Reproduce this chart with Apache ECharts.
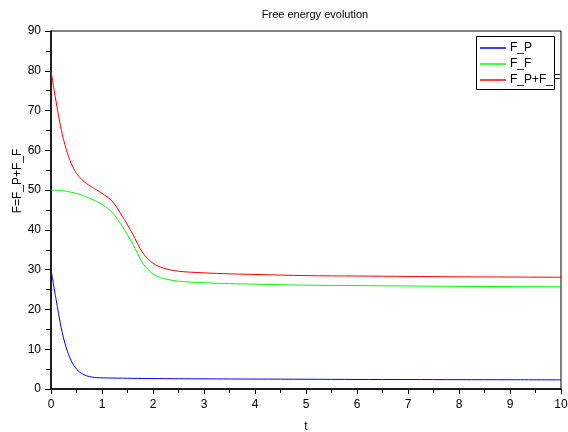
<!DOCTYPE html>
<html>
<head>
<meta charset="utf-8">
<script src="https://cdn.jsdelivr.net/npm/echarts@6/dist/echarts.min.js"></script>
<style>html,body{margin:0;padding:0;background:#fff}#c{width:568px;height:432px}</style>
</head>
<body>
<div id="c"></div>
<script>
var tValues = [0,0.1,0.2,0.3,0.4,0.5,0.6,0.7,0.8,0.9,1.0,1.2,1.4,1.6,1.8,2.0,2.2,2.5,3.0,3.5,4,5,6,7,8,9,10];
var fP  = [30,22.5,15.4,10.3,7.0,5.0,3.9,3.3,3.0,2.85,2.8,2.75,2.72,2.68,2.65,2.62,2.6,2.58,2.55,2.52,2.5,2.45,2.4,2.38,2.35,2.33,2.3];
var fF  = [50,49.97,49.85,49.7,49.45,49.15,48.75,48.25,47.7,47.1,46.4,44.4,40.8,36.5,31.6,28.9,27.8,27.1,26.7,26.5,26.35,26.1,26.0,25.9,25.8,25.75,25.7];
var fPF = [80,72.2,65.2,60.2,56.6,54.2,52.7,51.6,50.8,50.0,49.2,47.2,43.4,39.0,34.2,31.6,30.4,29.6,29.2,28.95,28.8,28.5,28.4,28.3,28.2,28.15,28.1];
var seriesNames = ['F_P','F_F','F_P+F_F'];
var seriesColors = ['#0000ff','#00ff00','#ff0000'];
var xTicks = {min:0,max:10,interval:1};
var yTicks = {min:0,max:90,interval:10};

function pairs(arr){ return tValues.map(function(t,i){return [t,arr[i]];}); }
var dataSets = [fP,fF,fPF];
var font = 'Liberation Sans, Arial, Helvetica, sans-serif';

var chart = echarts.init(document.getElementById('c'));
chart.setOption({
  animation:false,
  backgroundColor:'#fff',
  title:{text:'Free energy evolution',left:310,top:4,textAlign:'center',
    textStyle:{fontFamily:font,fontSize:11,fontWeight:'normal',color:'#000'}},
  grid:{left:51,right:7,top:31,bottom:43,outerBoundsMode:'none',containLabel:false,show:true,borderColor:'#000',borderWidth:1,backgroundColor:'transparent'},
  legend:{orient:'vertical',left:480,top:42,padding:0,itemGap:4,itemWidth:26,itemHeight:1.5,icon:'rect',
    data:seriesNames,textStyle:{fontFamily:font,fontSize:12,color:'#000',padding:[0,0,0,-1]}},
  graphic:[
    {type:'rect',shape:{x:476.5,y:36.5,width:78,height:53},style:{fill:'none',stroke:'#000',lineWidth:1},z:100},
    {type:'text',x:18,y:181,rotation:Math.PI/2,style:{text:'F=F_P+F_F',font:'12px '+font,fill:'#000',textAlign:'center',textVerticalAlign:'middle'}}
  ],
  xAxis:{type:'value',min:xTicks.min,max:xTicks.max,interval:xTicks.interval,
    name:'t',nameLocation:'middle',nameGap:32,nameTextStyle:{fontFamily:font,fontSize:12,color:'#000'},
    axisLine:{lineStyle:{color:'#000',width:1.5}},
    axisTick:{length:5,lineStyle:{color:'#000'}},
    minorTick:{show:true,splitNumber:2,length:4,lineStyle:{color:'#000'}},
    splitLine:{show:false},
    axisLabel:{margin:10,fontFamily:font,fontSize:12,color:'#000'}},
  yAxis:{type:'value',min:yTicks.min,max:yTicks.max,interval:yTicks.interval,
    axisLine:{show:true,lineStyle:{color:'#000',width:1.5}},
    axisTick:{show:true,length:6,lineStyle:{color:'#000'}},
    minorTick:{show:true,splitNumber:2,length:5,lineStyle:{color:'#000'}},
    splitLine:{show:false},
    axisLabel:{margin:10,fontFamily:font,fontSize:12,color:'#000'}},
  series:seriesNames.map(function(n,i){
    return {name:n,type:'line',smooth:0.3,showSymbol:false,symbol:'none',
      data:pairs(dataSets[i]),lineStyle:{color:seriesColors[i],width:1},itemStyle:{color:seriesColors[i]}};
  })
});
</script>
</body>
</html>
